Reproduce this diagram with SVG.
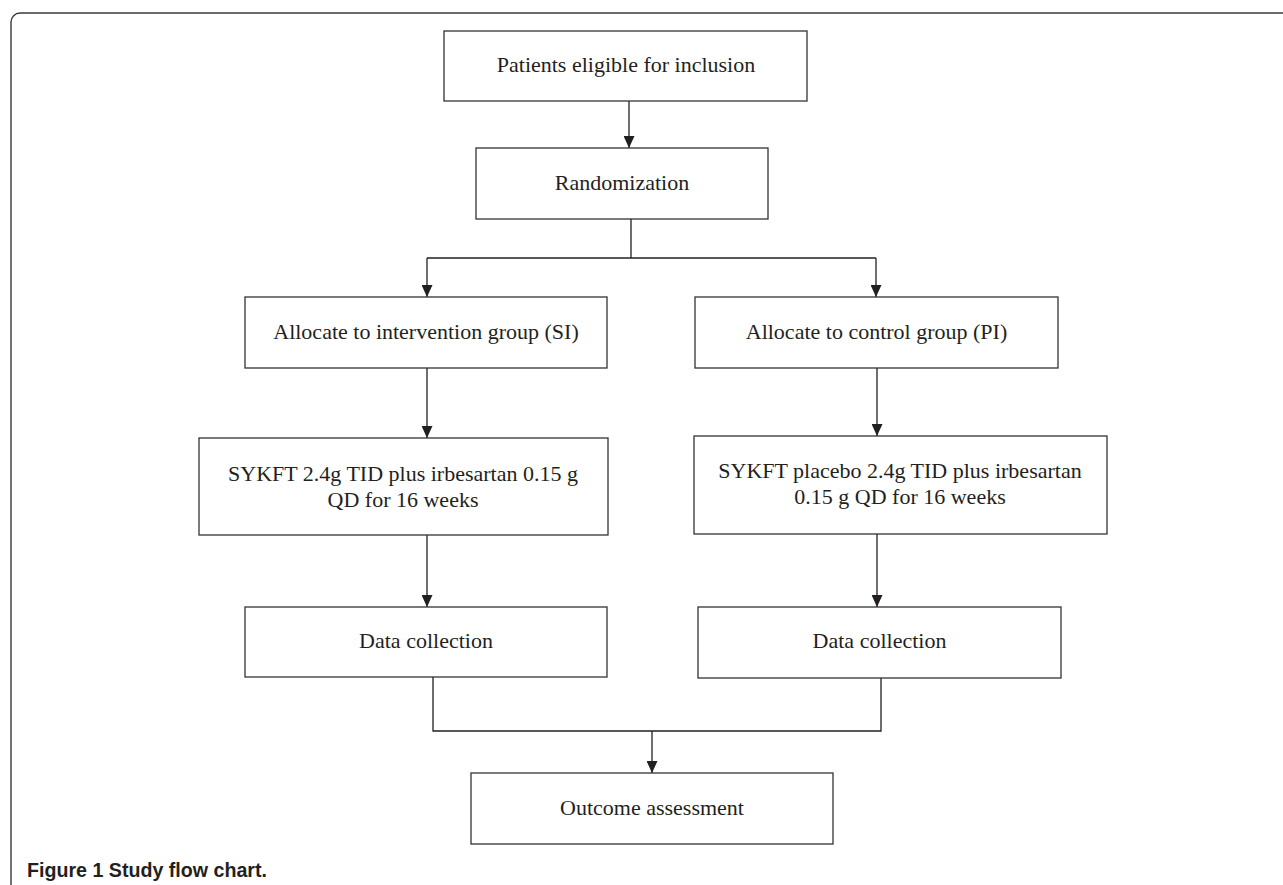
<svg xmlns="http://www.w3.org/2000/svg" width="1283" height="885" viewBox="0 0 1283 885">
<style>
.box{fill:#fff;stroke:#333;stroke-width:1.3}
.lbl{font-family:"Liberation Serif","Times New Roman",serif;font-size:22px;fill:#231f20;text-anchor:middle}
.con{fill:none;stroke:#231f20;stroke-width:1.3}
.frame{fill:none;stroke:#3a3a3a;stroke-width:1.4}
.cap{font-family:"Liberation Sans",Arial,sans-serif;font-weight:bold;font-size:20.5px;fill:#231f20}
</style>
<defs>
<marker id="ah" viewBox="0 0 12 11" refX="12" refY="5.5" markerWidth="12" markerHeight="11" markerUnits="userSpaceOnUse" orient="auto">
<path d="M0,0 L12,5.5 L0,11 z" fill="#231f20"/>
</marker>
</defs>
<rect width="1283" height="885" fill="#fff"/>
<path class="frame" d="M11,885 V22 A9,9 0 0 1 20,13 H1283"/>
<g id="connectors">
<line class="con" x1="629" y1="101" x2="629" y2="148" marker-end="url(#ah)"/>
<path class="con" d="M631,219 V258 M427,258 H876"/>
<line class="con" x1="427" y1="258" x2="427" y2="297" marker-end="url(#ah)"/>
<line class="con" x1="876" y1="258" x2="876" y2="297" marker-end="url(#ah)"/>
<line class="con" x1="427" y1="368" x2="427" y2="438" marker-end="url(#ah)"/>
<line class="con" x1="877" y1="368" x2="877" y2="436" marker-end="url(#ah)"/>
<line class="con" x1="427" y1="535" x2="427" y2="607" marker-end="url(#ah)"/>
<line class="con" x1="877" y1="534" x2="877" y2="607" marker-end="url(#ah)"/>
<path class="con" d="M433,677 V731 H881 V678"/>
<line class="con" x1="652" y1="731" x2="652" y2="773" marker-end="url(#ah)"/>
</g>
<g id="n1"><rect class="box" x="444" y="31" width="363" height="70"/><text class="lbl" x="626" y="72">Patients eligible for inclusion</text></g>
<g id="n2"><rect class="box" x="476" y="148" width="292" height="71"/><text class="lbl" x="622" y="190">Randomization</text></g>
<g id="n3"><rect class="box" x="245" y="297" width="362" height="71"/><text class="lbl" x="426" y="339">Allocate to intervention group (SI)</text></g>
<g id="n4"><rect class="box" x="695" y="297" width="363" height="71"/><text class="lbl" x="876.5" y="339">Allocate to control group (PI)</text></g>
<g id="n5"><rect class="box" x="199" y="438" width="409" height="97"/><text class="lbl" x="403" y="481">SYKFT 2.4g TID plus irbesartan 0.15 g</text><text class="lbl" x="403" y="507">QD for 16 weeks</text></g>
<g id="n6"><rect class="box" x="694" y="436" width="413" height="98"/><text class="lbl" x="900" y="478">SYKFT placebo 2.4g TID plus irbesartan</text><text class="lbl" x="900" y="504">0.15 g QD for 16 weeks</text></g>
<g id="n7"><rect class="box" x="245" y="607" width="362" height="70"/><text class="lbl" x="426" y="648">Data collection</text></g>
<g id="n8"><rect class="box" x="698" y="607" width="363" height="71"/><text class="lbl" x="879.5" y="648">Data collection</text></g>
<g id="n9"><rect class="box" x="471" y="773" width="362" height="71"/><text class="lbl" x="652" y="815">Outcome assessment</text></g>
<text class="cap" x="27" y="877" textLength="240" lengthAdjust="spacingAndGlyphs">Figure 1 Study flow chart.</text>
</svg>
